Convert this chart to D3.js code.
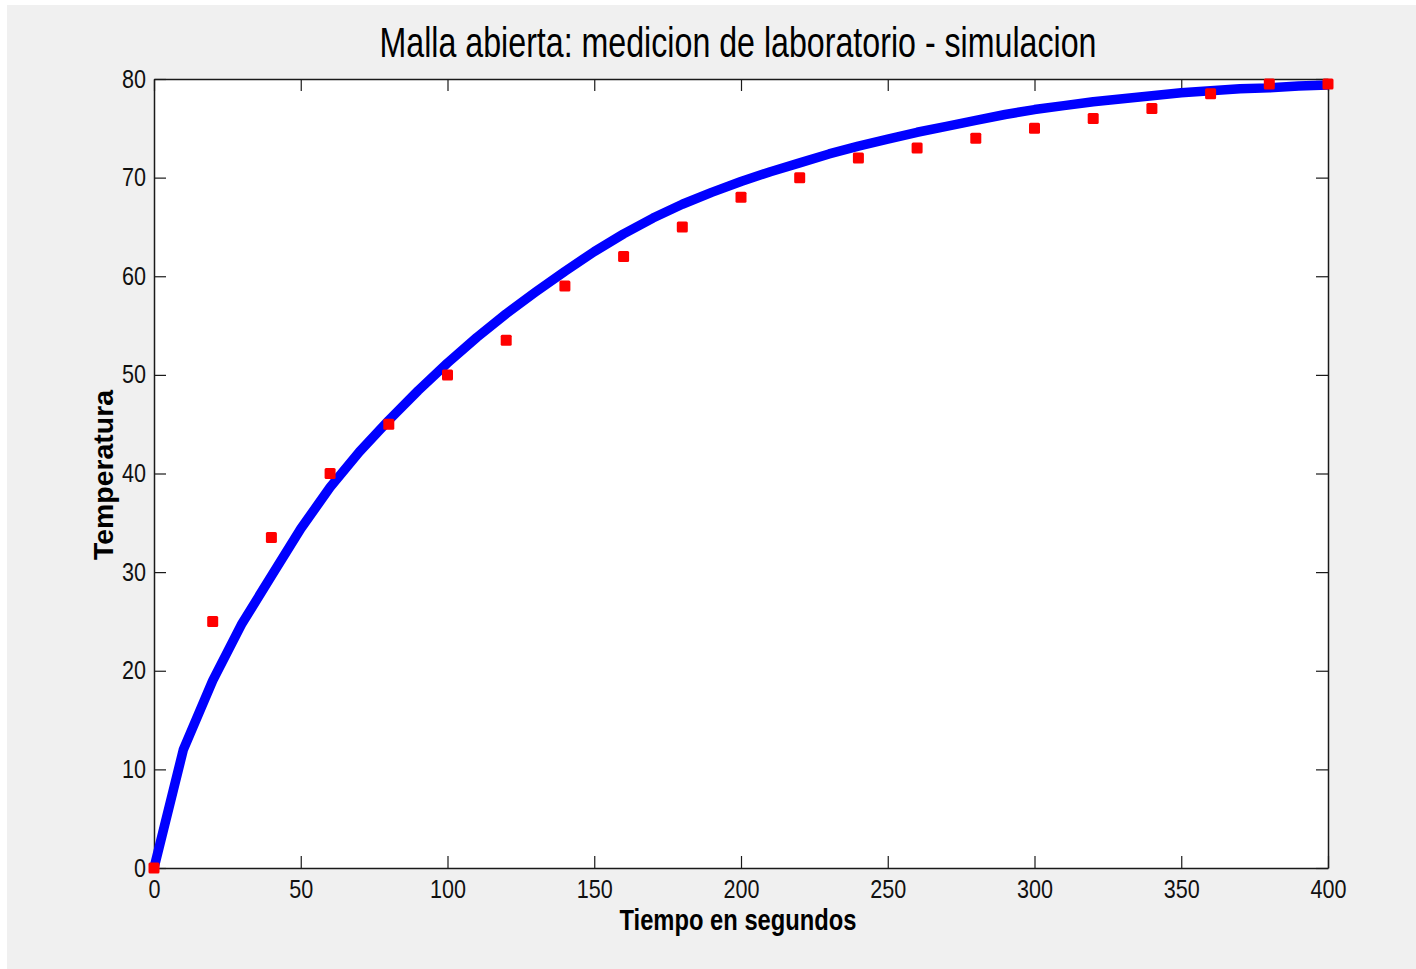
<!DOCTYPE html>
<meta charset="utf-8">
<style>
body { margin: 0; background: #fff; }
.axis path, .axis line { stroke: #1a1a1a; }
.axis text { fill: #111; font-family: "Liberation Sans", Arial, sans-serif; }
</style>
<svg width="1416" height="969"></svg>
<script src="https://cdn.jsdelivr.net/npm/d3@7"></script>
<script>

// lab measurements (every 20 s)
var measTime = [0, 20, 40, 60, 80, 100, 120, 140, 160, 180, 200, 220, 240, 260, 280, 300, 320, 340, 360, 380, 400];
var measTemp = [0, 25, 33.5, 40, 45, 50, 53.5, 59, 62, 65, 68, 70, 72, 73, 74, 75, 76, 77, 78.5, 79.5, 79.5];

// simulation (every 10 s)
var simTime = [0, 10, 20, 30, 40, 50, 60, 70, 80, 90, 100, 110, 120, 130, 140, 150, 160, 170, 180, 190, 200,
               210, 220, 230, 240, 250, 260, 270, 280, 290, 300, 310, 320, 330, 340, 350, 360, 370, 380, 390, 400];
var simTemp = [0, 12, 19, 24.8, 29.6, 34.4, 38.6, 42.2, 45.4, 48.4, 51.2, 53.8, 56.2, 58.4, 60.5, 62.5, 64.3, 65.9, 67.3, 68.5, 69.6,
               70.6, 71.5, 72.4, 73.2, 73.9, 74.6, 75.2, 75.8, 76.4, 76.9, 77.3, 77.7, 78.0, 78.3, 78.6, 78.8, 79.0, 79.1, 79.3, 79.4];

var xTicks = [0, 50, 100, 150, 200, 250, 300, 350, 400];
var yTicks = [0, 10, 20, 30, 40, 50, 60, 70, 80];

var titleText = "Malla abierta: medicion de laboratorio - simulacion";
var xLabel = "Tiempo en segundos";
var yLabel = "Temperatura";

var svg = d3.select("svg");

// figure background
svg.append("rect")
    .attr("x", 7).attr("y", 5)
    .attr("width", 1416 - 7).attr("height", 969 - 5)
    .attr("fill", "#f0f0f0");

var x = d3.scaleLinear().domain([0, 400]).range([154, 1328]);
var y = d3.scaleLinear().domain([0, 80]).range([868, 79]);

// axes box
svg.append("rect")
    .attr("x", x(0)).attr("y", y(80))
    .attr("width", x(400) - x(0)).attr("height", y(0) - y(80))
    .attr("fill", "#fff");

function fitDigits(sel) {
  sel.selectAll("text")
    .attr("font-size", 25)
    .attr("textLength", function(d) { return String(d).length * 12; })
    .attr("lengthAdjust", "spacingAndGlyphs");
}

svg.append("g").attr("class", "axis")
    .attr("transform", "translate(0," + y(0) + ")")
    .call(d3.axisBottom(x).tickValues(xTicks).tickSizeInner(-12).tickSizeOuter(0).tickPadding(12))
    .call(fitDigits);

svg.append("g").attr("class", "axis")
    .attr("transform", "translate(0," + y(80) + ")")
    .call(d3.axisTop(x).tickValues(xTicks).tickSizeInner(-12).tickSizeOuter(0).tickFormat(""));

svg.append("g").attr("class", "axis")
    .attr("transform", "translate(" + x(0) + ",0)")
    .call(d3.axisLeft(y).tickValues(yTicks).tickSizeInner(-12).tickSizeOuter(0).tickPadding(8))
    .call(fitDigits);

svg.append("g").attr("class", "axis")
    .attr("transform", "translate(" + x(400) + ",0)")
    .call(d3.axisRight(y).tickValues(yTicks).tickSizeInner(-12).tickSizeOuter(0).tickFormat(""));

svg.selectAll(".axis path").attr("stroke-width", 1.5);
svg.selectAll(".axis .tick line").attr("stroke-width", 1.2);

// simulation curve
var line = d3.line()
    .x(function(d) { return x(d[0]); })
    .y(function(d) { return y(d[1]); });

svg.append("path")
    .datum(d3.zip(simTime, simTemp))
    .attr("d", line)
    .attr("fill", "none")
    .attr("stroke", "#0000ff")
    .attr("stroke-width", 9.5)
    .attr("stroke-linejoin", "round");

// measured points
svg.append("g")
  .selectAll("rect")
  .data(d3.zip(measTime, measTemp))
  .enter().append("rect")
    .attr("x", function(d) { return x(d[0]) - 5.5; })
    .attr("y", function(d) { return y(d[1]) - 5.5; })
    .attr("width", 11)
    .attr("height", 11)
    .attr("rx", 1.5)
    .attr("fill", "#ff0000");

// texts
svg.append("text")
    .attr("x", 738).attr("y", 57)
    .attr("text-anchor", "middle")
    .attr("font-family", "Liberation Sans, Arial, sans-serif")
    .attr("font-size", 42)
    .attr("textLength", 717)
    .attr("lengthAdjust", "spacingAndGlyphs")
    .attr("fill", "#000")
    .text(titleText);

svg.append("text")
    .attr("x", 738).attr("y", 930)
    .attr("text-anchor", "middle")
    .attr("font-family", "Liberation Sans, Arial, sans-serif")
    .attr("font-weight", "bold")
    .attr("font-size", 30)
    .attr("textLength", 237)
    .attr("lengthAdjust", "spacingAndGlyphs")
    .attr("fill", "#000")
    .text(xLabel);

svg.append("text")
    .attr("transform", "translate(113,475) rotate(-90)")
    .attr("text-anchor", "middle")
    .attr("font-family", "Liberation Sans, Arial, sans-serif")
    .attr("font-weight", "bold")
    .attr("font-size", 27)
    .attr("textLength", 170)
    .attr("lengthAdjust", "spacingAndGlyphs")
    .attr("fill", "#000")
    .text(yLabel);

</script>
